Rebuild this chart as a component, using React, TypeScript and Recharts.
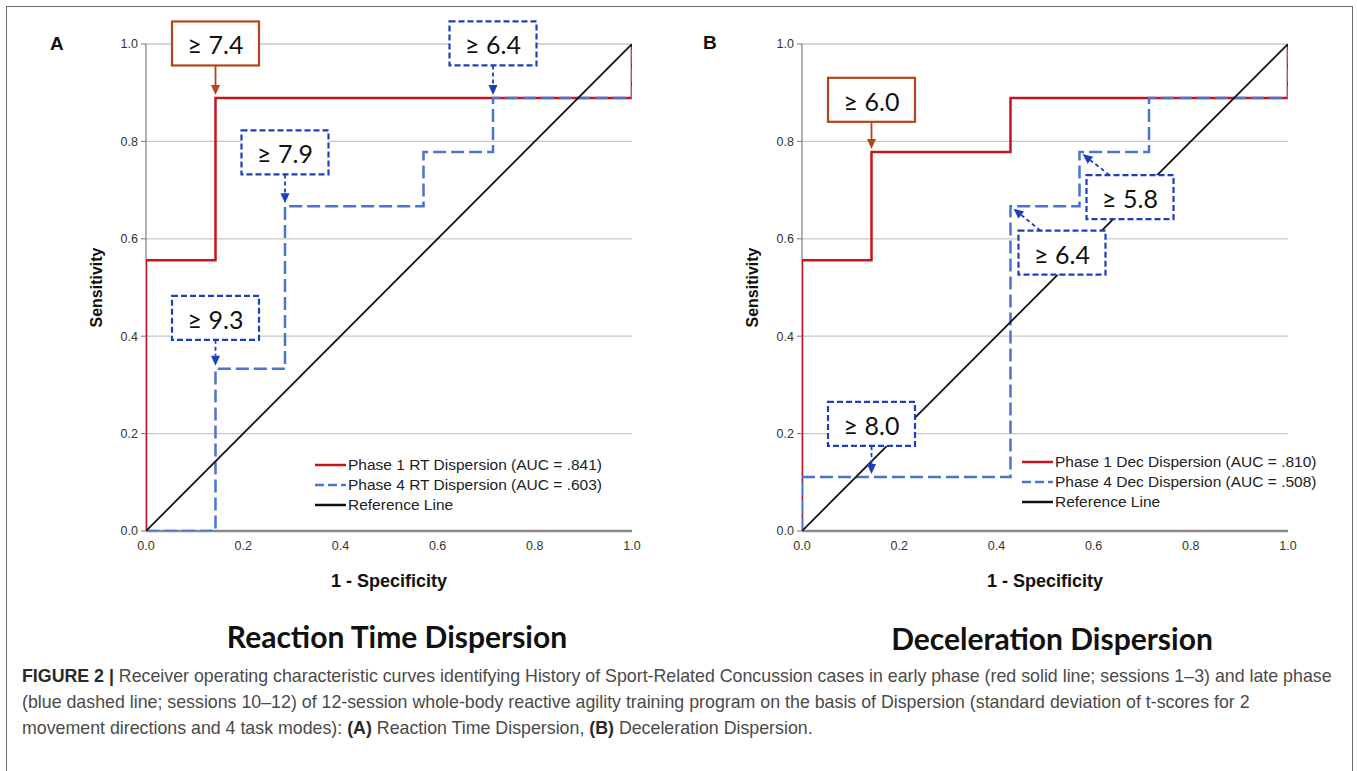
import React from 'react';
import { LineChart, Line, XAxis, YAxis, CartesianGrid, Legend, ReferenceDot } from 'recharts';

// ---------- data ----------
const axisTicks = [0, 0.2, 0.4, 0.6, 0.8, 1.0];

// Panel A: Reaction Time Dispersion
const rtPhase1Fpr = [0, 0, 0.143, 0.143, 1, 1];
const rtPhase1Tpr = [0, 0.556, 0.556, 0.889, 0.889, 1];
const rtPhase4Fpr = [0, 0.143, 0.143, 0.286, 0.286, 0.571, 0.571, 0.714, 0.714, 1, 1];
const rtPhase4Tpr = [0, 0, 0.333, 0.333, 0.667, 0.667, 0.778, 0.778, 0.889, 0.889, 1];

// Panel B: Deceleration Dispersion
const decPhase1Fpr = [0, 0, 0.143, 0.143, 0.429, 0.429, 1, 1];
const decPhase1Tpr = [0, 0.556, 0.556, 0.778, 0.778, 0.889, 0.889, 1];
const decPhase4Fpr = [0, 0, 0.429, 0.429, 0.571, 0.571, 0.714, 0.714, 1, 1];
const decPhase4Tpr = [0, 0.111, 0.111, 0.667, 0.667, 0.778, 0.778, 0.889, 0.889, 1];

// Reference (chance) line
const refFpr = [0, 1];
const refTpr = [0, 1];

// Series names
const rtNames = ['Phase 1 RT Dispersion (AUC = .841)', 'Phase 4 RT Dispersion (AUC = .603)', 'Reference Line'];
const decNames = ['Phase 1 Dec Dispersion (AUC = .810)', 'Phase 4 Dec Dispersion (AUC = .508)', 'Reference Line'];

// Cut-off annotations (label, series, anchor point on the curve)
const rtAnnLabels = ['≥ 7.4', '≥ 6.4', '≥ 7.9', '≥ 9.3'];
const rtAnnSeries = ['p1', 'p4', 'p4', 'p4'];
const rtAnnX = [0.143, 0.714, 0.286, 0.143];
const rtAnnY = [0.889, 0.889, 0.667, 0.333];

const decAnnLabels = ['≥ 6.0', '≥ 5.8', '≥ 6.4', '≥ 8.0'];
const decAnnSeries = ['p1', 'p4', 'p4', 'p4'];
const decAnnX = [0.143, 0.571, 0.429, 0.143];
const decAnnY = [0.778, 0.778, 0.667, 0.111];

// ---------- layout / style ----------
const FONT = "'Liberation Sans', Arial, Helvetica, sans-serif";
const BOX_FONT = "Lato, 'Open Sans', sans-serif";
const COLORS = {
  red: '#C4161C',
  blue: '#4B73D0',
  black: '#111111',
  brown: '#B3461A',
  annBlue: '#1F3DBF',
};

type Lay = { bx: number; by: number; sx: number; sy: number; tx: number; ty: number };
const vLay = (by: number): Lay => ({ bx: -43.5, by, sx: 0, sy: by + 44, tx: 0, ty: -3 });

const rtAnnLayout: Lay[] = [vLay(-76.6), vLay(-76.6), vLay(-75.7), vLay(-73)];
const decAnnLayout: Lay[] = [
  vLay(-74.3),
  { bx: 7, by: 23, sx: 30, sy: 23, tx: 3, ty: 2 },
  { bx: 8, by: 24.5, sx: 30, sy: 24.5, tx: 3, ty: 2.5 },
  vLay(-75),
];

const toPoints = (fpr: number[], tpr: number[]) => fpr.map((x, i) => ({ fpr: x, tpr: tpr[i] }));

const panels = [
  {
    key: 'A',
    left: 0,
    names: rtNames,
    p1: toPoints(rtPhase1Fpr, rtPhase1Tpr),
    p4: toPoints(rtPhase4Fpr, rtPhase4Tpr),
    annLabels: rtAnnLabels,
    annSeries: rtAnnSeries,
    annX: rtAnnX,
    annY: rtAnnY,
    annLayout: rtAnnLayout,
    legendLeft: 315,
    legendTop: 455,
  },
  {
    key: 'B',
    left: 656,
    names: decNames,
    p1: toPoints(decPhase1Fpr, decPhase1Tpr),
    p4: toPoints(decPhase4Fpr, decPhase4Tpr),
    annLabels: decAnnLabels,
    annSeries: decAnnSeries,
    annX: decAnnX,
    annY: decAnnY,
    annLayout: decAnnLayout,
    legendLeft: 366,
    legendTop: 452,
  },
];

const refPoints = toPoints(refFpr, refTpr);

const CH_W = 680;
const CH_H = 600;
const M_TOP = 44;
const M_RIGHT = 48;
const X_AXIS_H = 30;
const Y_AXIS_W = 40;
const M_BOTTOM = 39;
const M_LEFT = 106;

function Annotation({ cx, cy, label, kind, lay }: any) {
  if (cx == null || cy == null) return null;
  const isP1 = kind === 'p1';
  const color = isP1 ? COLORS.brown : COLORS.annBlue;
  const W = 87;
  const H = 44;
  const bx = cx + lay.bx;
  const by = cy + lay.by;
  const sx = cx + lay.sx;
  const sy = cy + lay.sy;
  const tx = cx + lay.tx;
  const ty = cy + lay.ty;
  const dx = tx - sx;
  const dy = ty - sy;
  const len = Math.hypot(dx, dy) || 1;
  const ux = dx / len;
  const uy = dy / len;
  const headL = 10;
  const headW = 4.5;
  const baseX = tx - ux * headL;
  const baseY = ty - uy * headL;
  const px = -uy;
  const py = ux;
  return (
    <g>
      <line
        x1={sx}
        y1={sy}
        x2={baseX}
        y2={baseY}
        stroke={color}
        strokeWidth={1.8}
        strokeDasharray={isP1 ? undefined : '4 3'}
      />
      <polygon
        points={`${tx},${ty} ${baseX + px * headW},${baseY + py * headW} ${baseX - px * headW},${baseY - py * headW}`}
        fill={color}
      />
      <rect
        x={bx}
        y={by}
        width={W}
        height={H}
        fill="#ffffff"
        stroke={color}
        strokeWidth={2.2}
        strokeDasharray={isP1 ? undefined : '6 3'}
      />
      <text
        x={bx + W / 2}
        y={by + H / 2 + 1}
        textAnchor="middle"
        dominantBaseline="central"
        fontFamily={BOX_FONT}
        fontSize={25}
        fill="#111"
      >
        {label}
      </text>
    </g>
  );
}

const fmt = (v: number) => v.toFixed(1);

const XTitle = (props: any) => {
  const vb = props.viewBox || { x: 146, y: 531, width: 486, height: 30 };
  return (
    <text
      x={vb.x + vb.width / 2}
      y={vb.y + 50}
      textAnchor="middle"
      dominantBaseline="central"
      fontFamily={FONT}
      fontWeight="bold"
      fontSize={18}
      fill="#111"
    >
      1 - Specificity
    </text>
  );
};

const YTitle = (props: any) => {
  const vb = props.viewBox || { x: 106, y: 44, width: 40, height: 487 };
  const x = vb.x + vb.width - 50;
  const y = vb.y + vb.height / 2;
  return (
    <text
      x={x}
      y={y}
      transform={`rotate(-90, ${x}, ${y})`}
      textAnchor="middle"
      dominantBaseline="central"
      fontFamily={FONT}
      fontWeight="bold"
      fontSize={16}
      fill="#111"
    >
      Sensitivity
    </text>
  );
};

function makeLegend(names: string[]) {
  const styles = [
    { color: COLORS.red, dash: undefined },
    { color: COLORS.blue, dash: '9 4' },
    { color: COLORS.black, dash: undefined },
  ];
  return (props: any) => {
    const payload = (props.payload || []).slice();
    payload.sort((a: any, b: any) => names.indexOf(a.value) - names.indexOf(b.value));
    return (
      <div style={{ fontFamily: FONT, fontSize: 15.5, color: '#222' }}>
        {payload.map((it: any) => {
          const idx = names.indexOf(it.value);
          const st = styles[idx] || styles[2];
          return (
            <div key={it.value} style={{ display: 'flex', alignItems: 'center', height: 20, whiteSpace: 'nowrap' }}>
              <svg width={33} height={10} style={{ display: 'block' }}>
                <line x1={0} x2={31} y1={5} y2={5} stroke={st.color} strokeWidth={2.5} strokeDasharray={st.dash} />
              </svg>
              <span>{it.value}</span>
            </div>
          );
        })}
      </div>
    );
  };
}

function RocPanel({ panel }: any) {
  return (
    <div style={{ position: 'absolute', left: panel.left, top: 0, width: CH_W, height: CH_H }}>
      {/* base layer: grid and axes */}
      <div style={{ position: 'absolute', left: 0, top: 0 }}>
        <LineChart width={CH_W} height={CH_H} margin={{ top: M_TOP, right: M_RIGHT, bottom: M_BOTTOM, left: M_LEFT }}>
          <CartesianGrid vertical={false} stroke="#c8c8c8" strokeWidth={1.3} />
          <XAxis
            type="number"
            dataKey="fpr"
            domain={[0, 1]}
            ticks={axisTicks}
            tickFormatter={fmt}
            allowDataOverflow
            height={X_AXIS_H}
            axisLine={{ stroke: '#8a8a8a', strokeWidth: 2.5 }}
            tickLine={false}
            tickSize={6}
            tickMargin={4}
            tick={{ fontSize: 12.5, fill: '#333', fontFamily: FONT }}
            label={{ content: XTitle }}
          />
          <YAxis
            type="number"
            domain={[0, 1]}
            ticks={axisTicks}
            tickFormatter={fmt}
            allowDataOverflow
            width={Y_AXIS_W}
            axisLine={{ stroke: '#666', strokeWidth: 1 }}
            tickLine={{ stroke: '#777' }}
            tickSize={5}
            tickMargin={3}
            tick={{ fontSize: 12.5, fill: '#333', fontFamily: FONT }}
            label={{ content: YTitle }}
          />
          <Line
            data={refPoints}
            dataKey="tpr"
            stroke="none"
            dot={false}
            activeDot={false}
            legendType="none"
            isAnimationActive={false}
          />
        </LineChart>
      </div>
      {/* top layer: curves, legend, cut-off annotations */}
      <div style={{ position: 'absolute', left: 0, top: 0 }}>
        <LineChart
          width={CH_W}
          height={CH_H}
          margin={{ top: M_TOP, right: M_RIGHT, bottom: M_BOTTOM + X_AXIS_H, left: M_LEFT + Y_AXIS_W }}
        >
          <XAxis type="number" dataKey="fpr" domain={[0, 1]} allowDataOverflow hide />
          <YAxis type="number" domain={[0, 1]} allowDataOverflow hide />
          <Line
            data={panel.p1}
            dataKey="tpr"
            name={panel.names[0]}
            type="linear"
            stroke={COLORS.red}
            strokeWidth={2.5}
            dot={false}
            activeDot={false}
            isAnimationActive={false}
          />
          <Line
            data={panel.p4}
            dataKey="tpr"
            name={panel.names[1]}
            type="linear"
            stroke={COLORS.blue}
            strokeWidth={2.5}
            strokeDasharray="13 5"
            dot={false}
            activeDot={false}
            isAnimationActive={false}
          />
          <Line
            data={refPoints}
            dataKey="tpr"
            name={panel.names[2]}
            type="linear"
            stroke={COLORS.black}
            strokeWidth={1.8}
            dot={false}
            activeDot={false}
            isAnimationActive={false}
          />
          <Legend
            layout="vertical"
            align="center"
            verticalAlign="middle"
            content={makeLegend(panel.names)}
            wrapperStyle={{ left: panel.legendLeft, top: panel.legendTop, width: 300 }}
          />
          {panel.annLabels.map((lab: string, i: number) => (
            <ReferenceDot
              key={lab + i}
              x={panel.annX[i]}
              y={panel.annY[i]}
              ifOverflow="visible"
              shape={(p: any) => (
                <Annotation cx={p.cx} cy={p.cy} label={lab} kind={panel.annSeries[i]} lay={panel.annLayout[i]} />
              )}
            />
          ))}
        </LineChart>
      </div>
    </div>
  );
}

const titleStyle: React.CSSProperties = {
  position: 'absolute',
  width: 600,
  textAlign: 'center',
  fontFamily: 'Lato, sans-serif',
  fontWeight: 'bold',
  fontSize: 30,
  lineHeight: '36px',
  color: '#111',
};

export default function App() {
  return (
    <div
      style={{
        position: 'absolute',
        left: 0,
        top: 0,
        width: 1357,
        height: 771,
        background: '#fff',
        overflow: 'hidden',
      }}
    >
      <div
        style={{
          position: 'absolute',
          left: 6,
          top: 6,
          width: 1347,
          height: 820,
          border: '1.5px solid #6a6a6a',
          boxSizing: 'border-box',
        }}
      />
      {panels.map((p) => (
        <RocPanel key={p.key} panel={p} />
      ))}
      <div style={{ position: 'absolute', left: 50, top: 33, fontFamily: FONT, fontWeight: 'bold', fontSize: 19, lineHeight: '22px', color: '#111' }}>
        A
      </div>
      <div style={{ position: 'absolute', left: 703, top: 32, fontFamily: FONT, fontWeight: 'bold', fontSize: 19, lineHeight: '22px', color: '#111' }}>
        B
      </div>
      <div style={{ ...titleStyle, left: 97, top: 618 }}>Reaction Time Dispersion</div>
      <div style={{ ...titleStyle, left: 752, top: 620 }}>Deceleration Dispersion</div>
      <div
        style={{
          position: 'absolute',
          left: 22,
          top: 663,
          fontFamily: FONT,
          fontSize: 17.8,
          lineHeight: '26px',
          color: '#4a4a4a',
          whiteSpace: 'nowrap',
        }}
      >
        <div>
          <b style={{ color: '#2a2a2a' }}>FIGURE 2 |</b> Receiver operating characteristic curves identifying History of Sport-Related Concussion cases in early phase (red solid line; sessions 1–3) and late phase
        </div>
        <div>
          (blue dashed line; sessions 10–12) of 12-session whole-body reactive agility training program on the basis of Dispersion (standard deviation of t-scores for 2
        </div>
        <div>
          movement directions and 4 task modes): <b style={{ color: '#2a2a2a' }}>(A)</b> Reaction Time Dispersion, <b style={{ color: '#2a2a2a' }}>(B)</b> Deceleration Dispersion.
        </div>
      </div>
    </div>
  );
}
